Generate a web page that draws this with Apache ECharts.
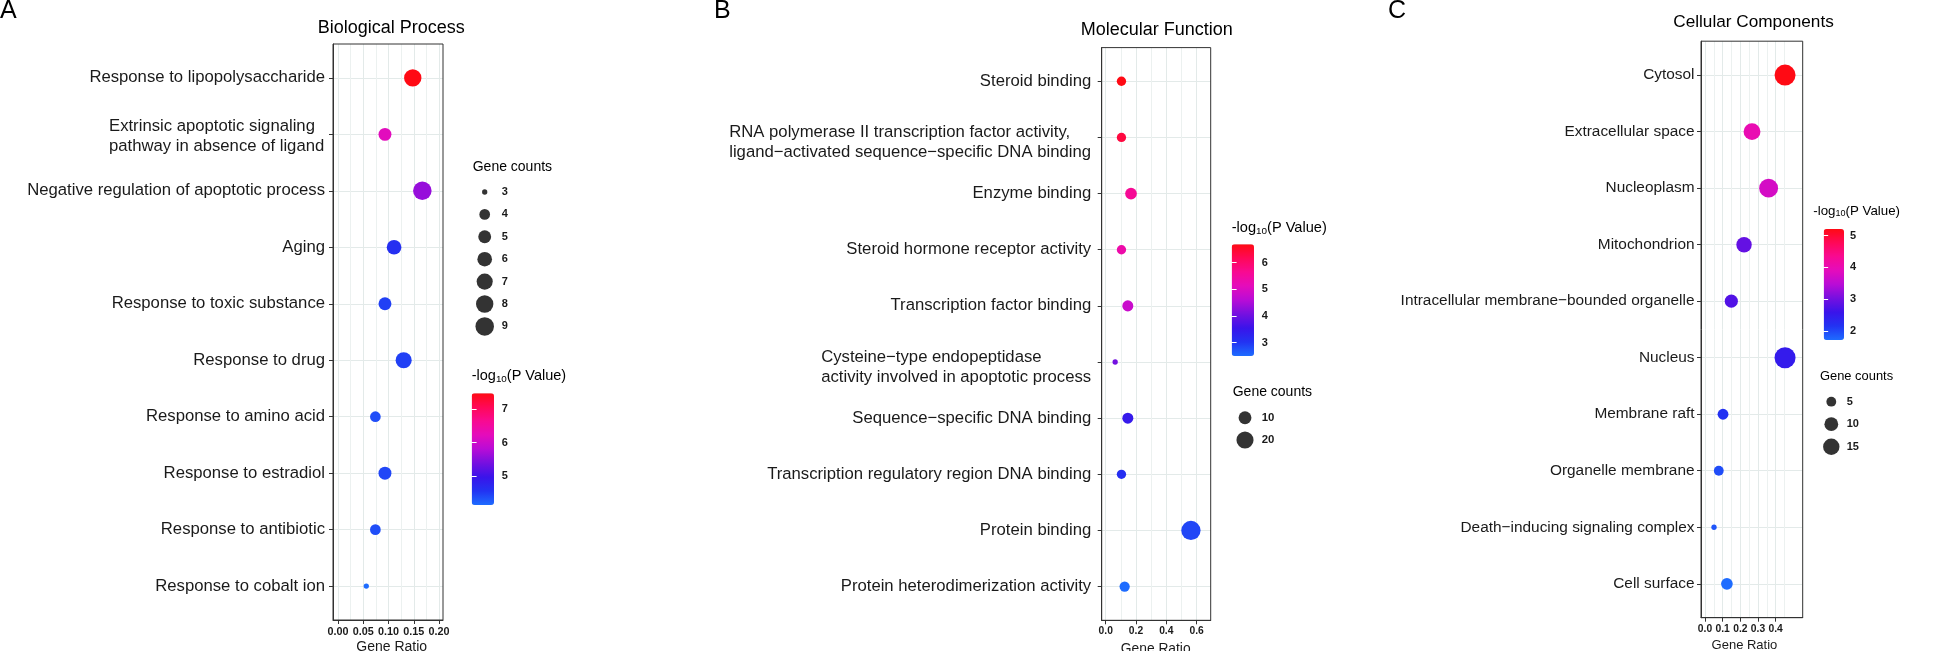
<!DOCTYPE html>
<html><head><meta charset="utf-8">
<script src="https://cdn.jsdelivr.net/npm/echarts@6/dist/echarts.min.js"></script>
<style>html,body{margin:0;padding:0;background:#fff}#c{width:1946px;height:651px}</style>
</head><body><div id="c"></div><script>
const FONT = "'Liberation Sans', Arial, Helvetica, sans-serif";

// ---------------- DATA ----------------
const bpTerms = ['Response to lipopolysaccharide', 'Extrinsic apoptotic signaling\npathway in absence of ligand', 'Negative regulation of apoptotic process', 'Aging', 'Response to toxic substance', 'Response to drug', 'Response to amino acid', 'Response to estradiol', 'Response to antibiotic', 'Response to cobalt ion'];
const bpRatio = [0.148, 0.093, 0.167, 0.111, 0.093, 0.130, 0.074, 0.093, 0.074, 0.056];
const bpCount = [8, 5, 9, 6, 5, 7, 4, 5, 4, 3];
const bpLogP = [7.48, 6.2, 5.6, 4.6, 4.45, 4.45, 4.35, 4.4, 4.35, 4.13];

const mfTerms = ['Steroid binding', 'RNA polymerase II transcription factor activity,\nligand\u2212activated sequence\u2212specific DNA binding', 'Enzyme binding', 'Steroid hormone receptor activity', 'Transcription factor binding', 'Cysteine\u2212type endopeptidase\nactivity involved in apoptotic process', 'Sequence\u2212specific DNA binding', 'Transcription regulatory region DNA binding', 'Protein binding', 'Protein heterodimerization activity'];
const mfRatio = [0.104, 0.104, 0.167, 0.104, 0.146, 0.0625, 0.146, 0.104, 0.5625, 0.125];
const mfCount = [5, 5, 8, 5, 7, 3, 7, 5, 27, 6];
const mfLogP = [6.69, 6.35, 5.6, 5.35, 4.8, 4.05, 3.45, 3.1, 2.85, 2.5];

const ccTerms = ['Cytosol', 'Extracellular space', 'Nucleoplasm', 'Mitochondrion', 'Intracellular membrane\u2212bounded organelle', 'Nucleus', 'Membrane raft', 'Organelle membrane', 'Death\u2212inducing signaling complex', 'Cell surface'];
const ccRatio = [0.453, 0.266, 0.360, 0.221, 0.149, 0.453, 0.102, 0.078, 0.051, 0.124];
const ccCount = [27, 16, 21, 13, 9, 27, 6, 5, 3, 7];
const ccLogP = [5.21, 4.0, 3.74, 2.9, 2.76, 2.48, 2.17, 1.95, 1.88, 1.71];

const bpRatioTicks = [0, 0.05, 0.10, 0.15, 0.20];
const mfRatioTicks = [0, 0.2, 0.4, 0.6];
const ccRatioTicks = [0, 0.1, 0.2, 0.3, 0.4];

const bpCountLegend = [3, 4, 5, 6, 7, 8, 9];
const mfCountLegend = [10, 20];
const ccCountLegend = [5, 10, 15];

const bpColorTicks = [5, 6, 7];
const mfColorTicks = [3, 4, 5, 6];
const ccColorTicks = [2, 3, 4, 5];
const bpColorRange = [4.13, 7.48];
const mfColorRange = [2.5, 6.69];
const ccColorRange = [1.71, 5.21];

const panelTitles = ['Biological Process', 'Molecular Function', 'Cellular Components'];
const panelLetters = ['A', 'B', 'C'];

// ---------------- LAYOUT / STYLE ----------------
const RAMP = ['#1e6cff', '#2233f2', '#3a14ea', '#7510e0', '#b80cd6', '#e40cbc', '#f80a92', '#ff0858', '#ff0a14'];
const GRIDC = '#e3eae9', MINORC = '#ecf1f0', AXC = '#333333', TXT = '#1a1a1a';

const panels = [
  { terms: bpTerms, ratio: bpRatio, count: bpCount, logp: bpLogP, ratioTicks: bpRatioTicks, digits: 2, splitNumber: 5,
    grid: { left: 333, top: 44, width: 110, height: 576 }, x: [-0.0099, 0.2079],
    labelFont: 16.7, labelMargin: 8, lineHeight: 19.7, shift: 4,
    tickFont: 10.8, tickMargin: 6.5, nameFont: 14, nameGap: 20, nameShift: 3.7,
    title: panelTitles[0], titleX: 391.3, titleY: 28.3, titleFont: 18, letter: panelLetters[0], letterX: 0, letterFont: 25,
    size: { cmin: 3, cmax: 9, dmin: 5.3, dmax: 18.5 },
    sizeLegend: { counts: bpCountLegend, cx: 484.7, y0: 192, step: 22.4, labelX: 501.7, titleX: 472.7, titleY: 166.7, titleFont: 14, font: 11 },
    colorbar: { range: bpColorRange, ticks: bpColorTicks, left: 471.7, top: 393.3, width: 22.3, height: 111.7, labelMargin: 7.7, titleX: 471.7, titleY: 376, titleFont: 14.5, font: 11 } },
  { terms: mfTerms, ratio: mfRatio, count: mfCount, logp: mfLogP, ratioTicks: mfRatioTicks, digits: 1, splitNumber: 4,
    grid: { left: 1101.7, top: 47.6, width: 109, height: 572.7 }, x: [-0.0264, 0.6931],
    labelFont: 16.7, labelMargin: 10.5, lineHeight: 20, shift: 10,
    tickFont: 10.3, tickMargin: 5.5, nameFont: 13.8, nameGap: 21.5, nameShift: -0.5,
    title: panelTitles[1], titleX: 1156.7, titleY: 30, titleFont: 18, letter: panelLetters[1], letterX: 714, letterFont: 25,
    size: { cmin: 3, cmax: 27, dmin: 5.3, dmax: 19.3 },
    sizeLegend: { counts: mfCountLegend, cx: 1245, y0: 417.7, step: 22.3, labelX: 1261.7, titleX: 1232.7, titleY: 392.3, titleFont: 14, font: 11.4 },
    colorbar: { range: mfColorRange, ticks: mfColorTicks, left: 1231.7, top: 244.3, width: 22.3, height: 111.7, labelMargin: 7.7, titleX: 1231.7, titleY: 228.3, titleFont: 14.6, font: 11 } },
  { terms: ccTerms, ratio: ccRatio, count: ccCount, logp: ccLogP, ratioTicks: ccRatioTicks, digits: 1, splitNumber: 5,
    grid: { left: 1701, top: 41.2, width: 101.7, height: 576.5 }, x: [-0.0226, 0.5529],
    labelFont: 15.4, labelMargin: 6.5, lineHeight: 19, shift: 0,
    tickFont: 10.3, tickMargin: 6.5, nameFont: 13, nameGap: 21, nameShift: -7.4,
    title: panelTitles[2], titleX: 1753.5, titleY: 22.5, titleFont: 17.2, letter: panelLetters[2], letterX: 1388, letterFont: 25,
    size: { cmin: 3, cmax: 27, dmin: 5.3, dmax: 21 },
    sizeLegend: { counts: ccCountLegend, cx: 1831.3, y0: 401.7, step: 22.5, labelX: 1846.7, titleX: 1820, titleY: 376.7, titleFont: 12.9, font: 11 },
    colorbar: { range: ccColorRange, ticks: ccColorTicks, left: 1823.7, top: 229, width: 20.3, height: 111, labelMargin: 6, titleX: 1813.3, titleY: 211, titleFont: 13.3, font: 11 } }
];

function sizer(p) {
  return c => p.dmin + (p.dmax - p.dmin) * Math.sqrt(Math.max(0, (c - p.cmin) / (p.cmax - p.cmin)));
}

const measureCtx = document.createElement('canvas').getContext('2d');
function yLabelSetup(p) {
  measureCtx.font = p.labelFont + 'px ' + FONT;
  const rich = {};
  p.terms.forEach((t, k) => {
    const lines = t.split('\n');
    if (lines.length > 1) {
      const w = Math.ceil(Math.max(...lines.map(l => measureCtx.measureText(l).width)));
      rich['t' + k] = { width: w, align: 'left', fontSize: p.labelFont, fontFamily: FONT, color: TXT,
        lineHeight: p.lineHeight, padding: [p.shift, 0, 0, 0] };
    }
  });
  const formatter = v => {
    const k = Math.round(v);
    const t = p.terms[k];
    if (t == null) return '';
    const lines = t.split('\n');
    return lines.length > 1 ? lines.map(l => `{t${k}|${l}}`).join('\n') : t;
  };
  return { rich, formatter };
}

const grids = [], xAxes = [], yAxes = [], series = [], visualMaps = [], graphics = [];

// main panels
panels.forEach((p, i) => {
  const n = p.terms.length;
  const gi = grids.length;
  grids.push({ left: p.grid.left, top: p.grid.top, width: p.grid.width, height: p.grid.height,
    show: false, containLabel: false, outerBoundsMode: 'none' });
  const np = p.nameShift >= 0 ? [0, 0, 0, 2 * p.nameShift] : [0, -2 * p.nameShift, 0, 0];
  const xi = xAxes.length;
  xAxes.push({ gridIndex: gi, type: 'value', min: p.x[0], max: p.x[1], splitNumber: p.splitNumber,
    name: 'Gene Ratio', nameLocation: 'middle', nameGap: p.nameGap, nameMoveOverlap: false,
    nameTextStyle: { fontFamily: FONT, fontSize: p.nameFont, color: TXT, padding: np },
    axisLine: { show: true, onZero: false, lineStyle: { color: AXC, width: 1 } },
    axisTick: { show: true, length: 4, customValues: p.ratioTicks, lineStyle: { color: AXC } },
    axisLabel: { customValues: p.ratioTicks, margin: p.tickMargin, fontFamily: FONT, fontSize: p.tickFont, fontWeight: 'bold', color: TXT,
      showMinLabel: true, showMaxLabel: true, formatter: v => Number(v).toFixed(p.digits) },
    splitLine: { show: true, lineStyle: { color: GRIDC, width: 1 } },
    minorTick: { show: false, splitNumber: 2 },
    minorSplitLine: { show: true, lineStyle: { color: MINORC, width: 1 } } });
  const idx = [...Array(n).keys()];
  const yl = yLabelSetup(p);
  const yi = yAxes.length;
  yAxes.push({ gridIndex: gi, type: 'value', min: -0.6, max: n - 1 + 0.6, inverse: true,
    axisLine: { show: true, onZero: false, lineStyle: { color: AXC, width: 1 } },
    axisTick: { show: true, length: 4, customValues: idx, lineStyle: { color: AXC } },
    axisLabel: { customValues: idx, margin: p.labelMargin, fontFamily: FONT, fontSize: p.labelFont, color: TXT, align: 'right',
      lineHeight: p.lineHeight, showMinLabel: true, showMaxLabel: true, formatter: yl.formatter, rich: yl.rich },
    splitLine: { show: true, lineStyle: { color: GRIDC, width: 1 } } });
  const sz = sizer(p.size);
  series.push({ type: 'scatter', xAxisIndex: xi, yAxisIndex: yi, silent: true, z: 3,
    data: p.ratio.map((r, k) => [r, k, p.count[k], p.logp[k]]),
    symbolSize: d => sz(d[2]), itemStyle: { opacity: 1 } });
  visualMaps.push({ type: 'continuous', seriesIndex: i, dimension: 3, min: p.colorbar.range[0], max: p.colorbar.range[1],
    left: p.colorbar.left, top: p.colorbar.top, itemWidth: p.colorbar.width, itemHeight: p.colorbar.height,
    orient: 'vertical', calculable: false, padding: 0, hoverLink: false, inRange: { color: RAMP } });
  graphics.push({ type: 'text', x: p.titleX, y: p.titleY, silent: true,
    style: { text: p.title, fontFamily: FONT, fontSize: p.titleFont, fill: '#000', align: 'center', verticalAlign: 'middle' } });
  graphics.push({ type: 'text', x: p.letterX, y: 11, silent: true,
    style: { text: p.letter, fontFamily: FONT, fontSize: p.letterFont, fill: '#000', align: 'left', verticalAlign: 'middle' } });
});

// panel borders drawn above the grid lines
panels.forEach(p => {
  grids.push({ left: p.grid.left, top: p.grid.top, width: p.grid.width, height: p.grid.height, z: 20,
    show: true, borderColor: AXC, borderWidth: 1, backgroundColor: 'transparent', containLabel: false, outerBoundsMode: 'none' });
});

// legends
panels.forEach((p, i) => {
  const L = p.sizeLegend, n = L.counts.length;
  const half = L.labelX - L.cx;
  const gi = grids.length;
  grids.push({ left: L.cx - half, top: L.y0 - L.step / 2, width: 2 * half, height: L.step * n, show: false, containLabel: false, outerBoundsMode: 'none' });
  const xi = xAxes.length;
  xAxes.push({ gridIndex: gi, type: 'value', min: 0, max: 1, show: false });
  const yi = yAxes.length;
  yAxes.push({ gridIndex: gi, type: 'category', data: L.counts.map(String), inverse: true, position: 'right',
    axisLine: { show: false }, axisTick: { show: false }, splitLine: { show: false },
    axisLabel: { margin: 0, fontFamily: FONT, fontSize: L.font, fontWeight: 'bold', color: TXT } });
  const sz = sizer(p.size);
  series.push({ type: 'scatter', xAxisIndex: xi, yAxisIndex: yi, silent: true,
    data: L.counts.map((c, k) => [0.5, k, c]), symbolSize: d => sz(d[2]), itemStyle: { color: '#000' } });
  graphics.push({ type: 'text', x: L.titleX, y: L.titleY, silent: true,
    style: { text: 'Gene counts', fontFamily: FONT, fontSize: L.titleFont, fill: '#000', align: 'left', verticalAlign: 'middle' } });

  const C = p.colorbar;
  const cg = grids.length;
  grids.push({ left: C.left, top: C.top, width: C.width, height: C.height, show: false, containLabel: false, outerBoundsMode: 'none' });
  xAxes.push({ gridIndex: cg, type: 'value', min: 0, max: 1, show: false });
  const tickLen = C.width * 0.22;
  yAxes.push({ gridIndex: cg, type: 'value', min: C.range[0], max: C.range[1], position: 'right', z: 10,
    axisLine: { show: false }, splitLine: { show: false },
    axisTick: { show: true, inside: true, length: tickLen, customValues: C.ticks, lineStyle: { color: '#ffffff', width: 1 } },
    axisLabel: { customValues: C.ticks, margin: C.labelMargin, fontFamily: FONT, fontSize: C.font, fontWeight: 'bold', color: TXT,
      showMinLabel: true, showMaxLabel: true, formatter: v => String(v) } });
  yAxes.push({ gridIndex: cg, type: 'value', min: C.range[0], max: C.range[1], position: 'left', z: 10,
    axisLine: { show: false }, splitLine: { show: false }, axisLabel: { show: false },
    axisTick: { show: true, inside: true, length: tickLen, customValues: C.ticks, lineStyle: { color: '#ffffff', width: 1 } } });
  graphics.push({ type: 'text', x: C.titleX, y: C.titleY, silent: true,
    style: { text: '-log{s|10}(P Value)', fontFamily: FONT, fontSize: C.titleFont, fill: '#000', align: 'left', verticalAlign: 'middle',
      rich: { s: { fontFamily: FONT, fontSize: C.titleFont * 0.68, fill: '#000', verticalAlign: 'bottom', padding: [C.titleFont * 0.45, 0, 0, 0] } } } });
});

const chart = echarts.init(document.getElementById('c'), null, { renderer: 'canvas', width: 1946, height: 651 });
chart.setOption({
  backgroundColor: '#ffffff',
  animation: false,
  textStyle: { fontFamily: FONT },
  grid: grids, xAxis: xAxes, yAxis: yAxes, series: series, visualMap: visualMaps, graphic: graphics
});
</script></body></html>
